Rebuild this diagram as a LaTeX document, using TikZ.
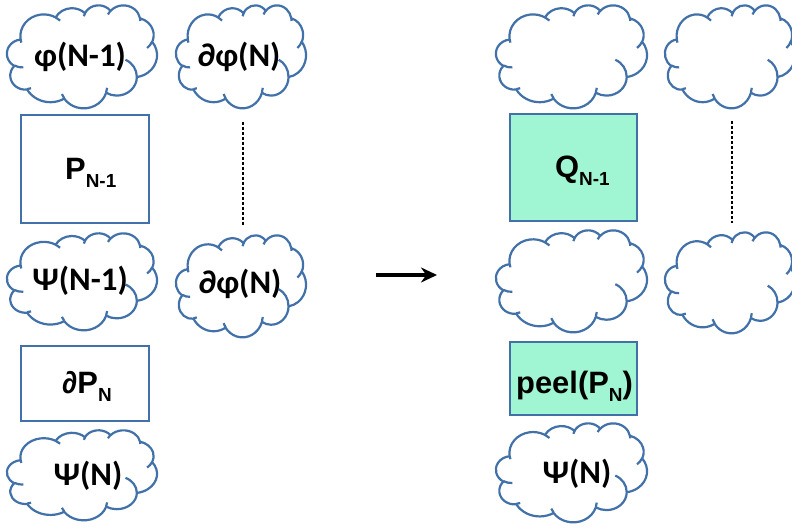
\documentclass[tikz,border=0pt]{standalone}
\usepackage{fontspec}
\setmainfont{Liberation Sans}
\newfontfamily\cldfont{Carlito}
\usetikzlibrary{arrows.meta}

\definecolor{cloudblue}{RGB}{65,113,168}
\definecolor{boxblue}{RGB}{65,113,168}
\definecolor{mint}{RGB}{160,246,210}

\tikzset{
  cloudline/.style={draw=cloudblue, line width=2.2bp, line join=round},
  cldlabel/.style={font=\cldfont\bfseries\fontsize{33}{33}\selectfont, inner sep=0pt},
  boxlabel/.style={font=\bfseries\fontsize{31}{31}\selectfont, inner sep=0pt, anchor=base west},
  framebox/.style={draw=boxblue, line width=2bp, inner sep=0pt},
  greenbox/.style={framebox, fill=mint},
  dotline/.style={line width=1.8bp, dash pattern=on 3bp off 2bp},
}

% lowered index text
\newcommand\subtxt[1]{\raisebox{-8bp}{\fontsize{19}{19}\selectfont #1}}

% cloud outline built from elliptic arcs in a 100 x 100 frame
% #1 name, #2 #3 top-left corner, #4 width, #5 height
\newcommand\pptcloud[5]{%
  \pgfmathsetmacro\cldw{#4/100}%
  \pgfmathsetmacro\cldh{#5/100}%
  \begin{scope}[shift={(#2,#3)}, x=\cldw bp, y=-\cldh bp]
    \draw[cloudline, fill=white] (9.028,33.264)
      \foreach \w/\h/\s/\d [evaluate=\s as \ts using {atan2(\w*sin(\s),\h*cos(\s))},
                            evaluate=\s as \dt using {mod(atan2(\w*sin(\s+\d),\h*cos(\s+\d))-atan2(\w*sin(\s),\h*cos(\s))+720,360)}] in {
        15.632/21.273/-190.4875/123.7805,
        12.345/16.822/-144.1024/89.9452,
        10.104/13.762/-145.8079/99.7230,
        11.243/15.266/-130.9861/117.2417,
        12.345/16.836/-78.7089/109.0269,
        15.683/21.343/-46.2673/130.2690,
        13.391/18.211/0.6250/114.0333,
        15.630/21.331/22.4516/115.1726,
        17.870/24.405/66.2426/75.7110,
        10.093/13.699/-274.9421/146.7356,
        10.058/13.762/-246.8285/152.5189}
      { arc[start angle=\ts, delta angle=\dt, x radius=\w, y radius=\h] } -- cycle;
    \draw[cloudline]
      \foreach \px/\py/\w/\h/\s/\d [evaluate=\s as \ts using {atan2(\w*sin(\s),\h*cos(\s))},
                            evaluate=\s as \dt using {mod(atan2(\w*sin(\s+\d),\h*cos(\s+\d))-atan2(\w*sin(\s),\h*cos(\s))+720,360)}] in {
        10.863/60.595/10.058/13.762/86.7420/26.4295,
        16.037/80.785/10.093/13.699/73.6105/11.4475,
        38.144/90.486/15.630/21.331/137.6242/14.0811,
        66.729/80.442/15.630/21.331/6.4533/15.9984,
        79.002/53.134/13.391/18.211/-70.2924/70.9174,
        96.755/35.542/12.345/16.836/30.3180/27.7515,
        88.713/12.560/11.243/15.266/-13.7443/14.8589,
        67.310/9.148/11.243/15.266/-149.1815/18.1954,
        51.252/10.926/10.104/13.762/-163.4943/17.6864,
        32.407/12.019/15.632/21.273/-66.7070/12.3194,
        9.553/36.549/15.632/21.273/157.6544/11.8582}
      { (\px,\py) arc[start angle=\ts, delta angle=\dt, x radius=\w, y radius=\h] };
    \coordinate (#1) at (50,50);
  \end{scope}}

\begin{document}
\begin{tikzpicture}[x=1bp, y=-1bp]
  \useasboundingbox (0,0) rectangle (792,532);
  \clip (0,0) rectangle (792,532);

  % left group
  \pptcloud{c1}{7}{5}{150}{103}
  \pptcloud{c2}{176}{5}{130}{103}
  \pptcloud{c3}{7}{233}{150}{97}
  \pptcloud{c4}{176}{235}{130}{102}
  \pptcloud{c5}{7}{430}{150}{90}

  \node[framebox, minimum width=128bp, minimum height=108bp] (bP) at (85,169) {};
  \node[framebox, minimum width=128bp, minimum height=75bp] (bdP) at (85,383.5) {};

  \node[cldlabel] (t1) at (80,57) {φ(N-1)};
  \node[cldlabel] (t2) at (239,57) {∂φ(N)};
  \node[cldlabel] (t3) at (80,281) {Ψ(N-1)};
  \node[cldlabel] (t4) at (240,284) {∂φ(N)};
  \node[cldlabel] (t5) at (88,476) {Ψ(N)};

  \node[boxlabel] (tP) at (65,180) {P\subtxt{N-1}};
  \node[boxlabel] (tdP) at (62,393) {∂P\subtxt{N}};

  \coordinate (dL1) at (243,122);
  \coordinate (dL2) at (243,225);
  \draw[dotline] (dL1) -- (dL2);

  % transition arrow
  \coordinate (aS) at (376,275);
  \coordinate (aE) at (437,275);
  \draw[line width=3.2bp, -{Stealth[length=16bp, width=15bp]}] (aS) -- (aE);

  % right group
  \pptcloud{c6}{496}{5}{151}{103}
  \pptcloud{c7}{665}{5}{130}{103}
  \pptcloud{c8}{496}{230}{151}{102}
  \pptcloud{c9}{665}{232}{130}{101}
  \pptcloud{c10}{496}{423}{151}{99}

  \node[greenbox, minimum width=127bp, minimum height=107bp] (bQ) at (573.5,167.5) {};
  \node[greenbox, minimum width=127bp, minimum height=73bp] (bpeel) at (573.5,378.5) {};

  \node[boxlabel] (tQ) at (555,178) {Q\subtxt{N-1}};
  \node[boxlabel] (tpeel) at (516,393) {peel(P\subtxt{N})};
  \node[cldlabel] (t10) at (577,474) {Ψ(N)};

  \coordinate (dR1) at (732,121);
  \coordinate (dR2) at (732,223);
  \draw[dotline] (dR1) -- (dR2);
\end{tikzpicture}
\end{document}
